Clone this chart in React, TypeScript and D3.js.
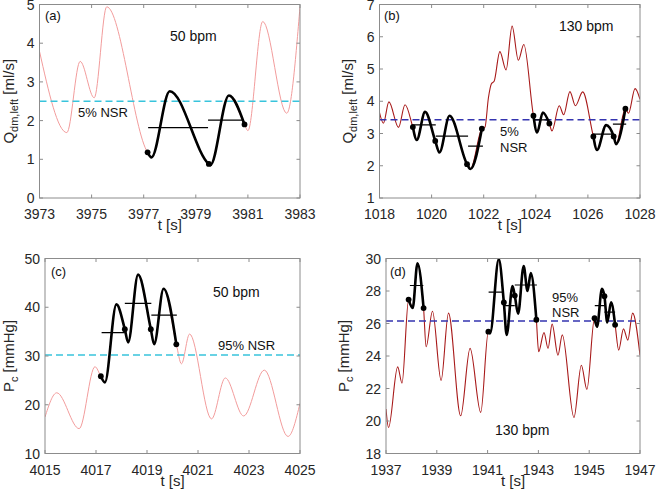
import React from "react";
import * as d3 from "d3";

// ---------------- DATA ----------------
// Panel (a): Q_dm,left at 50 bpm
const aTimes = [3973.0, 3974.05, 3974.56, 3975.1, 3975.58, 3977.15, 3977.3, 3978.0, 3979.5, 3979.56, 3980.27, 3980.87, 3981.0, 3981.57, 3982.49, 3983.0];
const aValues = [3.79, 1.69, 3.53, 2.59, 4.94, 1.18, 1.05, 2.76, 0.88, 0.85, 2.65, 1.9, 1.74, 4.56, 2.19, 4.94];
const aBlackStart = [3977.15];
const aBlackEnd = [3980.87];
const aDots = [3977.15, 3979.5, 3980.87];
const aLineStart = [3977.17, 3979.47];
const aLineEnd = [3979.47, 3980.85];
const aLineValue = [1.82, 2.01];
const aThreshold = 2.5;
const aXTicks = [3973, 3975, 3977, 3979, 3981, 3983];
const aYTicks = [0, 1, 2, 3, 4, 5];

// Panel (b): Q_dm,left at 130 bpm
const bTimes = [1018.0, 1018.15, 1018.36, 1018.73, 1018.98, 1019.28, 1019.43, 1019.75, 1020.14, 1020.3, 1020.69, 1021.36, 1021.49, 1021.93, 1022.05, 1022.18, 1022.3, 1022.4, 1022.62, 1022.86, 1023.09, 1023.33, 1023.54, 1023.91, 1024.05, 1024.27, 1024.52, 1024.62, 1024.9, 1025.07, 1025.31, 1025.52, 1025.8, 1026.21, 1026.35, 1026.7, 1026.99, 1027.08, 1027.44, 1027.56, 1027.81, 1028.0];
const bValues = [3.65, 3.32, 3.98, 3.19, 3.89, 3.2, 2.8, 3.67, 2.77, 2.41, 3.55, 2.05, 1.9, 3.15, 3.2, 4.1, 4.55, 4.62, 5.54, 4.97, 6.33, 5.27, 5.76, 3.55, 3.03, 3.65, 3.31, 3.08, 3.86, 3.58, 4.3, 3.86, 4.29, 2.91, 2.49, 3.26, 2.91, 2.67, 3.77, 3.63, 4.39, 4.06];
const bBlackStart = [1019.28, 1023.91, 1026.21];
const bBlackEnd = [1021.93, 1024.52, 1027.44];
const bDots = [1019.28, 1020.14, 1021.36, 1021.93, 1023.91, 1024.52, 1026.21, 1026.99, 1027.44];
const bLineStart = [1019.23, 1020.16, 1021.4, 1023.94, 1026.19, 1026.96];
const bLineEnd = [1020.16, 1021.4, 1021.97, 1024.53, 1026.96, 1027.47];
const bLineValue = [3.27, 2.92, 2.61, 3.42, 2.98, 3.29];
const bThreshold = 3.43;
const bXTicks = [1018, 1020, 1022, 1024, 1026, 1028];
const bYTicks = [1, 2, 3, 4, 5, 6, 7];

// Panel (c): P_c at 50 bpm
const cTimes = [4015.0, 4015.46, 4016.34, 4016.96, 4017.19, 4017.35, 4017.8, 4018.13, 4018.26, 4018.65, 4019.15, 4019.28, 4019.65, 4020.15, 4020.35, 4020.67, 4021.53, 4022.07, 4022.79, 4023.6, 4024.53, 4025.0];
const cValues = [17.48, 22.45, 15.1, 27.8, 25.85, 24.6, 40.6, 35.5, 32.8, 46.7, 35.5, 32.4, 43.8, 32.4, 28.4, 34.5, 17.1, 25.5, 17.7, 27.1, 13.5, 20.3];
const cBlackStart = [4017.19];
const cBlackEnd = [4020.15];
const cDots = [4017.19, 4018.13, 4019.15, 4020.15];
const cLineStart = [4017.22, 4018.13, 4019.17];
const cLineEnd = [4018.13, 4019.17, 4020.17];
const cLineValue = [34.8, 40.8, 38.4];
const cThreshold = 30.2;
const cXTicks = [4015, 4017, 4019, 4021, 4023, 4025];
const cYTicks = [10, 20, 30, 40, 50];

// Panel (d): P_c at 130 bpm
const dTimes = [1937.0, 1937.1, 1937.46, 1937.63, 1937.89, 1938.05, 1938.24, 1938.48, 1938.58, 1938.83, 1939.17, 1939.46, 1939.94, 1940.31, 1940.73, 1941.03, 1941.1, 1941.44, 1941.64, 1941.75, 1941.98, 1942.07, 1942.2, 1942.42, 1942.57, 1942.7, 1942.92, 1943.01, 1943.22, 1943.38, 1943.54, 1943.77, 1943.94, 1944.4, 1944.69, 1944.91, 1945.21, 1945.31, 1945.5, 1945.6, 1945.71, 1945.86, 1946.02, 1946.16, 1946.35, 1946.52, 1946.71, 1947.0];
const dValues = [20.74, 19.6, 23.33, 22.33, 27.47, 26.95, 29.71, 26.95, 24.57, 26.75, 22.5, 26.64, 20.32, 24.47, 20.53, 25.5, 25.4, 29.96, 27.3, 25.3, 28.3, 27.72, 26.6, 29.54, 28.0, 29.1, 26.23, 24.26, 25.44, 24.47, 25.96, 24.05, 25.3, 20.22, 23.43, 21.94, 26.33, 25.8, 28.13, 27.68, 26.06, 27.3, 25.92, 24.36, 25.67, 24.98, 26.64, 24.05];
const dBlackStart = [1937.89, 1941.03, 1945.21];
const dBlackEnd = [1938.48, 1942.92, 1946.02];
const dDots = [1937.89, 1938.48, 1941.03, 1941.64, 1942.07, 1942.92, 1945.21, 1945.6, 1946.02];
const dLineStart = [1937.94, 1941.04, 1941.64, 1942.07, 1945.22, 1945.6];
const dLineEnd = [1938.47, 1941.64, 1942.07, 1942.94, 1945.6, 1946.02];
const dLineValue = [28.34, 27.93, 27.1, 28.37, 27.1, 26.7];
const dThreshold = 26.15;
const dXTicks = [1937, 1939, 1941, 1943, 1945, 1947];
const dYTicks = [18, 20, 22, 24, 26, 28, 30];

// ---------------- STYLE / LAYOUT ----------------
const FONT = '"Liberation Sans", Arial, Helvetica, sans-serif';
const TEXT = "#262626";
const FRAME = "#8c8c8c";
const PINK = "#f29c9c";
const DARKRED = "#a81a1a";
const CYAN = "#38c4dc";
const BLUE = "#3434b0";

type Ann = { text: string; x: number; y: number; size: number };

type Panel = {
  left: number; right: number; top: number; bottom: number;
  xTicks: number[]; yTicks: number[];
  t: number[]; v: number[];
  bs: number[]; be: number[]; dots: number[];
  ls: number[]; le: number[]; lv: number[];
  thr: number; lineColor: string; lineWidth: number; thrColor: string;
  ylabMain: string; ylabSub: string; ylabUnit: string; ylabX: number;
  anns: Ann[];
};

const panels: Panel[] = [
  {
    left: 39.5, right: 300, top: 4.5, bottom: 198,
    xTicks: aXTicks, yTicks: aYTicks, t: aTimes, v: aValues,
    bs: aBlackStart, be: aBlackEnd, dots: aDots,
    ls: aLineStart, le: aLineEnd, lv: aLineValue,
    thr: aThreshold, lineColor: PINK, lineWidth: 1, thrColor: CYAN,
    ylabMain: "Q", ylabSub: "dm,left", ylabUnit: " [ml/s]", ylabX: 14,
    anns: [
      { text: "(a)", x: 45, y: 20, size: 13 },
      { text: "50 bpm", x: 170, y: 41, size: 14 },
      { text: "5% NSR", x: 78, y: 117, size: 13 },
    ],
  },
  {
    left: 379.5, right: 640, top: 4.5, bottom: 198,
    xTicks: bXTicks, yTicks: bYTicks, t: bTimes, v: bValues,
    bs: bBlackStart, be: bBlackEnd, dots: bDots,
    ls: bLineStart, le: bLineEnd, lv: bLineValue,
    thr: bThreshold, lineColor: DARKRED, lineWidth: 1.1, thrColor: BLUE,
    ylabMain: "Q", ylabSub: "dm,left", ylabUnit: " [ml/s]", ylabX: 353,
    anns: [
      { text: "(b)", x: 384, y: 20, size: 13 },
      { text: "130 bpm", x: 559, y: 31, size: 14 },
      { text: "5%", x: 500, y: 136, size: 13 },
      { text: "NSR", x: 500, y: 152, size: 13 },
    ],
  },
  {
    left: 45, right: 300, top: 258.5, bottom: 453.5,
    xTicks: cXTicks, yTicks: cYTicks, t: cTimes, v: cValues,
    bs: cBlackStart, be: cBlackEnd, dots: cDots,
    ls: cLineStart, le: cLineEnd, lv: cLineValue,
    thr: cThreshold, lineColor: PINK, lineWidth: 1, thrColor: CYAN,
    ylabMain: "P", ylabSub: "c", ylabUnit: " [mmHg]", ylabX: 14,
    anns: [
      { text: "(c)", x: 51, y: 276, size: 13 },
      { text: "50 bpm", x: 213, y: 297, size: 14 },
      { text: "95% NSR", x: 218, y: 350, size: 13 },
    ],
  },
  {
    left: 386, right: 640, top: 258.5, bottom: 453.5,
    xTicks: dXTicks, yTicks: dYTicks, t: dTimes, v: dValues,
    bs: dBlackStart, be: dBlackEnd, dots: dDots,
    ls: dLineStart, le: dLineEnd, lv: dLineValue,
    thr: dThreshold, lineColor: DARKRED, lineWidth: 1.1, thrColor: BLUE,
    ylabMain: "P", ylabSub: "c", ylabUnit: " [mmHg]", ylabX: 349,
    anns: [
      { text: "(d)", x: 390, y: 276, size: 13 },
      { text: "95%", x: 552, y: 302, size: 13 },
      { text: "NSR", x: 552, y: 317, size: 13 },
      { text: "130 bpm", x: 495, y: 435, size: 14 },
    ],
  },
];

function PanelView({ p, idx }: { p: Panel; idx: number }) {
  const x = d3.scaleLinear().domain([p.xTicks[0], p.xTicks[p.xTicks.length - 1]]).range([p.left, p.right]);
  const y = d3.scaleLinear().domain([p.yTicks[0], p.yTicks[p.yTicks.length - 1]]).range([p.bottom, p.top]);
  const pts: [number, number][] = p.t.map((t, i) => [t, p.v[i]]);
  const line = d3.line<[number, number]>().x((d) => x(d[0])).y((d) => y(d[1])).curve(d3.curveMonotoneX);
  const clipId = `clip-${idx}`;
  const valAt = (t: number) => {
    let best = 0;
    let bd = Infinity;
    p.t.forEach((tt, i) => {
      const dd = Math.abs(tt - t);
      if (dd < bd) { bd = dd; best = i; }
    });
    return p.v[best];
  };
  const tick = 3.5;
  const midY = (p.top + p.bottom) / 2;
  const midX = (p.left + p.right) / 2;
  return (
    <g>
      <defs>
        <clipPath id={clipId}>
          <rect x={p.left} y={p.top} width={p.right - p.left} height={p.bottom - p.top} />
        </clipPath>
      </defs>
      <g clipPath={`url(#${clipId})`}>
        <path d={line(pts) || ""} fill="none" stroke={p.lineColor} strokeWidth={p.lineWidth} />
        <line x1={p.left} x2={p.right} y1={y(p.thr)} y2={y(p.thr)} stroke={p.thrColor} strokeWidth={1.5} strokeDasharray="7,4" />
        {p.bs.map((s, i) => {
          const sub = pts.filter((d) => d[0] >= s - 1e-6 && d[0] <= p.be[i] + 1e-6);
          return <path key={`b${i}`} d={line(sub) || ""} fill="none" stroke="#000" strokeWidth={2.6} strokeLinejoin="round" strokeLinecap="round" />;
        })}
        {p.ls.map((s, i) => (
          <line key={`h${i}`} x1={x(s)} x2={x(p.le[i])} y1={y(p.lv[i])} y2={y(p.lv[i])} stroke="#000" strokeWidth={1.2} />
        ))}
        {p.dots.map((t, i) => (
          <circle key={`d${i}`} cx={x(t)} cy={y(valAt(t))} r={2.9} fill="#000" />
        ))}
      </g>
      {/* frame */}
      <rect x={p.left} y={p.top} width={p.right - p.left} height={p.bottom - p.top} fill="none" stroke={FRAME} strokeWidth={1} />
      {p.xTicks.map((t) => (
        <g key={`xt${t}`}>
          <line x1={x(t)} x2={x(t)} y1={p.bottom} y2={p.bottom - tick} stroke={FRAME} />
          <line x1={x(t)} x2={x(t)} y1={p.top} y2={p.top + tick} stroke={FRAME} />
          <text x={x(t)} y={p.bottom + 21} textAnchor="middle" fontSize={14} fill={TEXT} fontFamily={FONT}>{t}</text>
        </g>
      ))}
      {p.yTicks.map((v) => (
        <g key={`yt${v}`}>
          <line x1={p.left} x2={p.left + tick} y1={y(v)} y2={y(v)} stroke={FRAME} />
          <line x1={p.right} x2={p.right - tick} y1={y(v)} y2={y(v)} stroke={FRAME} />
          <text x={p.left - 5} y={y(v)} dy="0.36em" textAnchor="end" fontSize={14} fill={TEXT} fontFamily={FONT}>{v}</text>
        </g>
      ))}
      <text x={midX} y={p.bottom + 32} textAnchor="middle" fontSize={15} fill={TEXT} fontFamily={FONT}>t [s]</text>
      <text transform={`translate(${p.ylabX},${midY}) rotate(-90)`} textAnchor="middle" fontSize={15} fill={TEXT} fontFamily={FONT}>
        {p.ylabMain}
        <tspan dy={4} fontSize={11}>{p.ylabSub}</tspan>
        <tspan dy={-4}>{p.ylabUnit}</tspan>
      </text>
      {p.anns.map((a, i) => (
        <text key={`a${i}`} x={a.x} y={a.y} fontSize={a.size} fill="#111" fontFamily={FONT}>{a.text}</text>
      ))}
    </g>
  );
}

export default function App() {
  return (
    <svg width={656} height={492} viewBox="0 0 656 492" style={{ position: "absolute", left: 0, top: 0, background: "#fff" }}>
      <rect x={0} y={0} width={656} height={492} fill="#fff" />
      {panels.map((p, i) => (
        <PanelView key={i} p={p} idx={i} />
      ))}
    </svg>
  );
}
